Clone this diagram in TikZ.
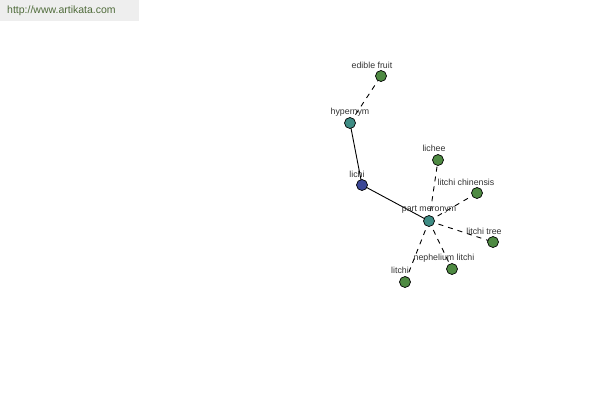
\documentclass[tikz,border=0pt]{standalone}
\usepackage{fontspec}
\setmainfont{Liberation Sans}
\definecolor{leaf}{HTML}{4E8A42}
\definecolor{tealn}{HTML}{3E8C84}
\definecolor{bluen}{HTML}{3B4796}
\definecolor{hdrbg}{HTML}{EEEEEE}
\definecolor{hdrtx}{HTML}{4F6B3A}
\definecolor{lbl}{HTML}{333333}
\begin{document}
\begin{tikzpicture}[x=1pt,y=-1pt,
  dot/.style={circle,draw=black,line width=0.7pt,minimum size=11pt,inner sep=0pt},
  leafdot/.style={dot,fill=leaf},
  reldot/.style={dot,fill=tealn},
  rootdot/.style={dot,fill=bluen},
  lab/.style={font=\fontsize{8.8}{10}\selectfont,text=lbl,inner sep=0pt},
  solidedge/.style={line width=0.9pt},
  dashedge/.style={line width=0.9pt,dash pattern=on 5pt off 5pt}]
\useasboundingbox (0,0) rectangle (600,400);
\fill[hdrbg] (0,0) rectangle (139,21);
\node[font=\fontsize{10.5}{12}\selectfont,text=hdrtx,anchor=west,inner sep=0pt] (hdr) at (7,11) {http://www.artikata.com};
% edges first
\coordinate (pEF) at (381,76);
\coordinate (pHY) at (350,123);
\coordinate (pLI) at (362,185);
\coordinate (pPM) at (429,221);
\coordinate (pLE) at (438,160);
\coordinate (pLC) at (477,193);
\coordinate (pLT) at (493,242);
\coordinate (pNL) at (452,269);
\coordinate (pLT2) at (405,282);
\draw[dashedge] (pHY) -- (pEF);
\draw[solidedge] (pHY) -- (pLI);
\draw[solidedge] (pLI) -- (pPM);
\draw[dashedge] (pPM) -- (pLE);
\draw[dashedge] (pPM) -- (pLC);
\draw[dashedge] (pPM) -- (pLT);
\draw[dashedge] (pPM) -- (pNL);
\draw[dashedge] (pPM) -- (pLT2);
% labels
\node[lab] (tEF) at (372,65) {edible fruit};
\node[lab] (tHY) at (350,112) {hypernym};
\node[lab] (tLI) at (357,174) {lichi};
\node[lab] (tPM) at (429,210) {part meronym};
\node[lab] (tLE) at (434,148) {lichee};
\node[lab] (tLC) at (466,182) {litchi chinensis};
\node[lab] (tLT) at (484,231) {litchi tree};
\node[lab] (tNL) at (444,258) {nephelium litchi};
\node[lab] (tLT2) at (400,270) {litchi};
% nodes
\node[leafdot] (EF) at (pEF) {};
\node[reldot] (HY) at (pHY) {};
\node[rootdot] (LI) at (pLI) {};
\node[reldot] (PM) at (pPM) {};
\node[leafdot] (LE) at (pLE) {};
\node[leafdot] (LC) at (pLC) {};
\node[leafdot] (LT) at (pLT) {};
\node[leafdot] (NL) at (pNL) {};
\node[leafdot] (LT2) at (pLT2) {};
\end{tikzpicture}
\end{document}
